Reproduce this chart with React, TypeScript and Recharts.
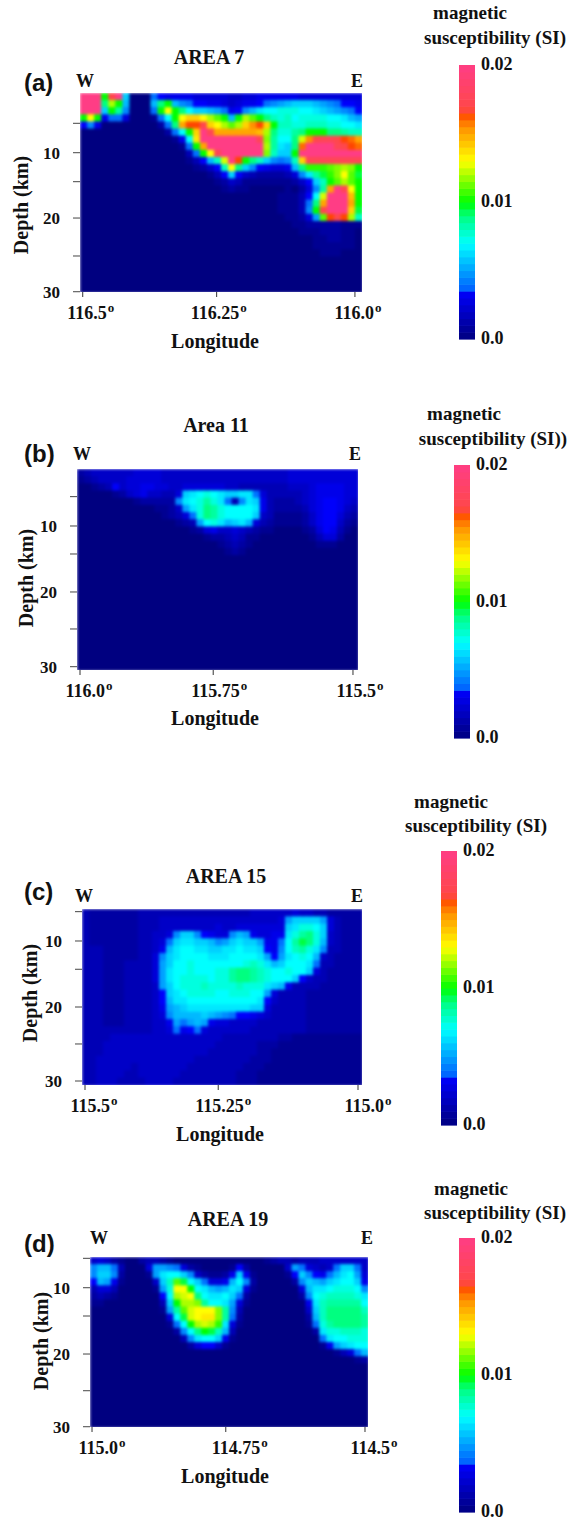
import { ScatterChart, Scatter, XAxis, YAxis } from 'recharts';

// grid cells are one character each, in steps of 0.0005 SI (E = 0.02)
const LEVELS = '0123456789abcdefghijklmnopqrstuvwxyzABCDE';
const Z = '0000000000 0000000000 0000000000 0000000000';

const area7Rows = [
  'EEEkyEc000 8766665555 5445566666 6555555555',
  'EEEiokb000 bikb987766 54566789ab cccba98776',
  'EEEckh9000 8kqkieccba 8679bdeeff feedcba987',
  'kqk6885000 18ekqssqom kbkomkigfg effffeedba',
  '7960000000 028iuxxysq omosvxskgg ffgggffeed',
  '0000000000 0028eksEzu uuuuutoiff hikkkiihgg',
  '0000000000 00016erEEE EEEEEznhee ipvyzzyxwu',
  '0000000000 000018kuEE EEEEEEohdc iwEEEEzyxw',
  '0000000000 0000038kqz EEEEEEngcc kEEEEEEEEE',
  '0000000000 00000137bg pExkigc989 gszzzzzzzz',
  '0000000000 0000001247 gqic976556 billlmnonk',
  '0000000000 0000000013 7c74322223 59dhjlnqmj',
  '0000000000 0000000001 2431111111 247cgkmomk',
  '0000000000 0000000000 1211000001 0259huEzqk',
  '0000000000 0000000000 0000000011 137epEEEtk',
  '0000000000 0000000000 0000000011 138iuEEEuk',
  '0000000000 0000000000 0000000011 139kyEEEsj',
  '0000000000 0000000000 0000000001 125amxyxog',
  '0000000000 0000000000 0000000000 1122222111',
  '0000000000 0000000000 0000000000 0111222110',
  '0000000000 0000000000 0000000000 0001122110',
  '0000000000 0000000000 0000000000 0001111110',
  '0000000000 0000000000 0000000000 0000111000',
  Z, Z, Z, Z, Z,
];

const area11Rows = [
  '2344444455 5544444444 4444444444 5555555555',
  '1234444555 5544444444 4444444444 5555555555',
  '0012374556 6554455555 5443333333 4445666655',
  '0000012456 44335cdefe dccdd85333 3345666655',
  '0000000012 22229defhf d839dc6322 2345677654',
  '0000000000 01124adfih feeeed6322 2235677643',
  '0000000000 0012358fih feeeec4311 1124677532',
  '0000000000 0000123aef dbcdb53211 1124677421',
  '0000000000 0000001256 4454321100 0012576310',
  '0000000000 0000000012 2343110000 0001355200',
  '0000000000 0000000000 1232100000 0000111000',
  '0000000000 0000000000 0121000000 0000000000',
  Z, Z, Z, Z, Z, Z, Z, Z, Z, Z, Z, Z, Z, Z, Z, Z,
];

const area15Rows = [
  '3222222233 3333333333 3333444444 5443322222',
  '3222222233 3444444444 444444445a cccca53222',
  '3222222233 3444444445 445555555c dffec53222',
  '3222222233 4459cc9765 59ba65566d fhifc43222',
  '3222222233 458cddccb9 acdcca668e hjifb43222',
  '3332222233 46bdeeddcc ddeddc769e ghfd933222',
  '3332222233 59cdeeeedd deeeeda7ad efeb432222',
  '3332223333 5aceefeeee eeefgfdbce eed8332222',
  '3332223333 5adeefeeef fhiihgfeef eec5322222',
  '3332223333 5adeffffef fhiihgfeee c743322222',
  '3332223333 4acefffgff ffgfffdcb6 3333222222',
  '3332223333 47cdeffffe efffeea533 3322222222',
  '3332223333 47bddeeeee eeeeed7433 3322222222',
  '3332223333 46abcddddd ddddcc5333 3322222222',
  '3332223333 459bbbbcba 9877654333 3322222222',
  '3332223333 446a8aba65 5444433333 3322222222',
  '3333333333 4458678544 4444333333 3322222222',
  '3333444444 4444444444 3333333322 1111111111',
  '3334444444 4444444443 3333322211 1111111111',
  '3334444444 4444444433 3333322111 1111111111',
  '3344444444 4444443333 3333222111 1111111111',
  '3344444344 4444433333 3332221111 1111111111',
  '3344443344 4444333333 3322211111 1111111111',
  '3344433334 4443333333 3322211111 1111111111',
];

const area19Rows = [
  '4542100233 2100000000 0000012332 3334444444',
  '9bb830005a a985210000 172000004a 854348cc84',
  '9cc920001a deec942112 6c61000017 c9768bdea5',
  '7ba6100004 cgmjec8556 be92000002 9cbacdeec6',
  '3553000001 afqqkedbab dc51000000 5bddefffe9',
  '2321000000 7eopqiedde c820000000 29efggggfd',
  '1100000000 3ckoonheed a510000000 06dghhhhhe',
  '0000000000 1ahmpqqqnh 9300000000 04cgiiiiig',
  '0000000000 05ejpqrrnh 8200000000 02bgiiiiih',
  '0000000000 018ekopold 5100000000 018fhiiiih',
  '0000000000 0029eikjgb 3000000000 002dffgggf',
  '0000000000 00039deec6 1000000000 0008deefff',
  '0000000000 0000257741 0000000000 00016acdee',
  '0000000000 0000000000 0000000000 000001358b',
  '0000000000 0000000000 0000000000 0000000012',
  Z, Z, Z, Z, Z, Z, Z, Z, Z,
];

// the printed axes are uneven, so the ticks sit where the figure has them
const area7DepthTicks = [5.77, 10, 14.17, 19.4, 24.86, 30];
const area11DepthTicks = [5.83, 10, 13.98, 19.38, 24.64, 30];
const area15DepthTicks = [5.81, 10, 14.04, 19.43, 24.71, 30];
const area19DepthTicks = [5.77, 10, 14.07, 19.54, 24.82, 30];
const depthLabels = ['', '10', '', '20', '', '30'];

const area7LonTicks = [116.5, 116.254, 116.0];
const area11LonTicks = [116.0, 115.756, 115.5];
const area15LonTicks = [115.5, 115.256, 115.0];
const area19LonTicks = [115.0, 114.755, 114.5];
const area7LonLabels = ['116.5', '116.25', '116.0'];
const area11LonLabels = ['116.0', '115.75', '115.5'];
const area15LonLabels = ['115.5', '115.25', '115.0'];
const area19LonLabels = ['115.0', '114.75', '114.5'];

const barLevels = [
  0.00025, 0.00075, 0.00125, 0.00175, 0.00225, 0.00275, 0.00325, 0.00375,
  0.00425, 0.00475, 0.00525, 0.00575, 0.00625, 0.00675, 0.00725, 0.00775,
  0.00825, 0.00875, 0.00925, 0.00975, 0.01025, 0.01075, 0.01125, 0.01175,
  0.01225, 0.01275, 0.01325, 0.01375, 0.01425, 0.01475, 0.01525, 0.01575,
  0.01625, 0.01675, 0.01725, 0.01775, 0.01825, 0.01875, 0.01925, 0.01975,
];
const barTicks = [0, 0.01, 0.02];
const barLabels = ['0.0', '0.01', '0.02'];

const colorStops: [number, number[]][] = [
  [0, [0, 0, 128]],
  [0.0036, [0, 0, 255]],
  [0.00361, [0, 96, 255]],
  [0.007, [0, 255, 255]],
  [0.009, [0, 255, 128]],
  [0.01, [0, 255, 0]],
  [0.013, [255, 255, 0]],
  [0.0155, [255, 144, 0]],
  [0.0165, [255, 69, 0]],
  [0.0168, [255, 72, 72]],
  [0.02, [255, 61, 133]],
];

const colorFor = (v: number) => {
  for (let i = 1; i < colorStops.length; i++) {
    const [v1, c1] = colorStops[i];
    if (v <= v1) {
      const [v0, c0] = colorStops[i - 1];
      const t = (v - v0) / (v1 - v0);
      const c = c0.map((a, k) => Math.round(a + (c1[k] - a) * t));
      return `rgb(${c[0]},${c[1]},${c[2]})`;
    }
  }
  return 'rgb(255,61,133)';
};

const SERIF = '"Liberation Serif", serif';

const panels = [
  {
    rows: area7Rows, depthTicks: area7DepthTicks, lonTicks: area7LonTicks, lonLabels: area7LonLabels,
    lonDomain: [115.987, 116.505], depthDomain: [1.41, 30.04],
    x: 80, y: 93, w: 282, h: 199, labelDx: [8, 2, 3],
    title: 'AREA 7', titleX: 209, titleY: 64, tag: '(a)', tagY: 91, wX: 76, eX: 351, dirY: 87,
    lonX: 215, lonY: 348, depX: 28, depY: 205, tickDy: 22,
  },
  {
    rows: area11Rows, depthTicks: area11DepthTicks, lonTicks: area11LonTicks, lonLabels: area11LonLabels,
    lonDomain: [115.4908, 116.0055], depthDomain: [1.9, 30.47],
    x: 77, y: 469, w: 281, h: 201, labelDx: [9, 6, 7],
    title: 'Area 11', titleX: 216, titleY: 432, tag: '(b)', tagY: 462, wX: 73, eX: 349, dirY: 460,
    lonX: 215, lonY: 725, depX: 33, depY: 578, tickDy: 22,
  },
  {
    rows: area15Rows, depthTicks: area15DepthTicks, lonTicks: area15LonTicks, lonLabels: area15LonLabels,
    lonDomain: [114.9927, 115.5055], depthDomain: [5.43, 30.57],
    x: 82, y: 909, w: 280, h: 176, labelDx: [9, 5, 10],
    title: 'AREA 15', titleX: 226, titleY: 883, tag: '(c)', tagY: 900, wX: 75, eX: 351, dirY: 902,
    lonX: 220, lonY: 1141, depX: 37, depY: 993, tickDy: 22,
  },
  {
    rows: area19Rows, depthTicks: area19DepthTicks, lonTicks: area19LonTicks, lonLabels: area19LonLabels,
    lonDomain: [114.4945, 115.0037], depthDomain: [5.58, 30.04],
    x: 90, y: 1257, w: 278, h: 170, labelDx: [10, 14, 9],
    title: 'AREA 19', titleX: 228, titleY: 1226, tag: '(d)', tagY: 1252, wX: 90, eX: 361, dirY: 1244,
    lonX: 225, lonY: 1483, depX: 48, depY: 1341, tickDy: 22,
  },
];

const bars = [
  { x: 459, y: 65, h: 274, magX: 470, magY: 19, susX: 495, susY: 44, sus: 'susceptibility (SI)' },
  { x: 454, y: 465, h: 273, magX: 464, magY: 420, susX: 493, susY: 445, sus: 'susceptibility (SI))' },
  { x: 441, y: 851, h: 274, magX: 451, magY: 808, susX: 476, susY: 832, sus: 'susceptibility (SI)' },
  { x: 459, y: 1238, h: 274, magX: 471, magY: 1195, susX: 495, susY: 1219, sus: 'susceptibility (SI)' },
];

const buildCells = (rows: string[], lonDomain: number[], depthDomain: number[]) => {
  const cells: { lon: number; depth: number; value: number }[] = [];
  rows.forEach((row, r) => {
    const chars = row.replace(/ /g, '');
    chars.split('').forEach((ch, c) => {
      cells.push({
        lon: lonDomain[1] - ((c + 0.5) / chars.length) * (lonDomain[1] - lonDomain[0]),
        depth: depthDomain[0] + ((r + 0.5) / rows.length) * (depthDomain[1] - depthDomain[0]),
        value: LEVELS.indexOf(ch) * 0.0005,
      });
    });
  });
  return cells;
};

const Panel = ({ p }: { p: (typeof panels)[number] }) => {
  const cols = p.rows[0].replace(/ /g, '').length;
  const cw = p.w / cols;
  const ch = p.h / p.rows.length;
  const LonTick = (t: any) => (
    <text
      x={t.x + p.labelDx[t.index]}
      y={t.y + p.tickDy}
      textAnchor="middle"
      fontFamily={SERIF}
      fontWeight="bold"
      fontSize={18}
      fill="#111"
    >
      {p.lonLabels[t.index]}
      <tspan dx={1} dy={-7} fontSize={13}>o</tspan>
    </text>
  );
  return (
    <div style={{ position: 'absolute', left: p.x - 60, top: p.y - 10 }}>
      <ScatterChart width={p.w + 90} height={p.h + 50} margin={{ top: 10, right: 30, left: 0, bottom: 0 }}>
        <XAxis
          type="number"
          dataKey="lon"
          domain={p.lonDomain}
          reversed
          allowDataOverflow
          ticks={p.lonTicks}
          interval={0}
          height={40}
          axisLine={false}
          tickSize={5}
          tickMargin={0}
          tickLine={{ stroke: '#333' }}
          tick={LonTick}
        />
        <YAxis
          type="number"
          dataKey="depth"
          domain={p.depthDomain}
          reversed
          allowDataOverflow
          ticks={p.depthTicks}
          interval={0}
          width={60}
          axisLine={false}
          tickSize={7}
          tickMargin={13}
          tickLine={{ stroke: '#444' }}
          tickFormatter={(_v: number, i: number) => depthLabels[i]}
          tick={{ fontFamily: SERIF, fontWeight: 'bold', fontSize: 17, fill: '#111' }}
        />
        <Scatter
          className="heat"
          data={buildCells(p.rows, p.lonDomain, p.depthDomain)}
          isAnimationActive={false}
          shape={(s: any) => (
            <rect
              x={s.cx - cw / 2}
              y={s.cy - ch / 2}
              width={cw + 1}
              height={ch + 1}
              fill={colorFor(s.payload.value)}
            />
          )}
        />
      </ScatterChart>
    </div>
  );
};

const barData = barLevels.map((value) => ({ slot: 1, value }));

const ColorBar = ({ b }: { b: (typeof bars)[number] }) => {
  const cellH = b.h / barLevels.length;
  return (
    <div style={{ position: 'absolute', left: b.x, top: b.y - 20 }}>
      <ScatterChart width={80} height={b.h + 40} margin={{ top: 20, right: 0, left: 0, bottom: 20 }}>
        <XAxis type="number" dataKey="slot" domain={[0, 2]} hide height={0} />
        <YAxis
          type="number"
          dataKey="value"
          orientation="right"
          domain={[0, 0.02]}
          ticks={barTicks}
          interval={0}
          width={64}
          axisLine={false}
          tickLine={false}
          tickSize={0}
          tickMargin={6}
          tickFormatter={(_v: number, i: number) => barLabels[i]}
          tick={{ fontFamily: SERIF, fontWeight: 'bold', fontSize: 18, fill: '#111', dy: -1 }}
        />
        <Scatter
          data={barData}
          isAnimationActive={false}
          shape={(s: any) => (
            <rect x={s.cx - 8} y={s.cy - cellH / 2} width={16} height={cellH + 0.6} fill={colorFor(s.payload.value)} />
          )}
        />
      </ScatterChart>
    </div>
  );
};

export default function App() {
  const serif = { fontFamily: SERIF, fontWeight: 'bold', fill: '#111' } as const;
  return (
    <div style={{ position: 'absolute', left: 0, top: 0, width: 583, height: 1520, overflow: 'hidden', background: '#fff' }}>
      <style>{'.heat { filter: url(#soften); }'}</style>
      {panels.map((p) => (
        <Panel key={p.title} p={p} />
      ))}
      {bars.map((b) => (
        <ColorBar key={b.y} b={b} />
      ))}
      <svg width={583} height={1520} style={{ position: 'absolute', left: 0, top: 0, pointerEvents: 'none' }}>
        <defs>
          <filter id="soften" x="0" y="0" width="1" height="1" colorInterpolationFilters="sRGB">
            <feGaussianBlur stdDeviation="1.8" edgeMode="duplicate" />
          </filter>
        </defs>
        {panels.map((p) => (
          <g key={p.title}>
            <text x={p.titleX} y={p.titleY} textAnchor="middle" fontSize={20} {...serif}>{p.title}</text>
            <text x={24} y={p.tagY} fontSize={24} fontFamily='"Liberation Sans", sans-serif' fontWeight="bold" fill="#111">{p.tag}</text>
            <text x={p.wX} y={p.dirY} fontSize={18} {...serif}>W</text>
            <text x={p.eX} y={p.dirY} fontSize={18} {...serif}>E</text>
            <text x={p.lonX} y={p.lonY} textAnchor="middle" fontSize={20} {...serif}>Longitude</text>
            <text
              x={p.depX}
              y={p.depY}
              textAnchor="middle"
              fontSize={20}
              transform={`rotate(-90 ${p.depX} ${p.depY})`}
              {...serif}
            >
              Depth (km)
            </text>
          </g>
        ))}
        {bars.map((b) => (
          <g key={b.y}>
            <text x={b.magX} y={b.magY} textAnchor="middle" fontSize={19} {...serif}>magnetic</text>
            <text x={b.susX} y={b.susY} textAnchor="middle" fontSize={19} {...serif}>{b.sus}</text>
          </g>
        ))}
      </svg>
    </div>
  );
}
